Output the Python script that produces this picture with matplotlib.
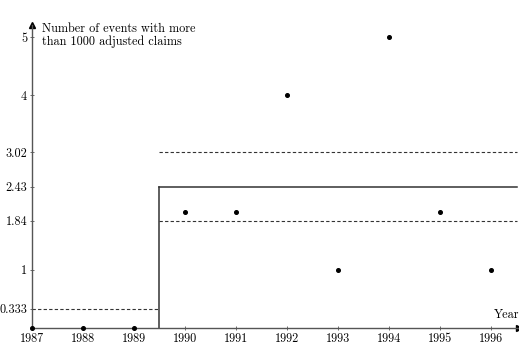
import matplotlib
matplotlib.use("Agg")
import matplotlib.pyplot as plt

years = [1987, 1988, 1989, 1990, 1991, 1992, 1993, 1994, 1995, 1996]
events = [0, 0, 0, 2, 2, 4, 1, 5, 2, 1]
break_year = 1989.5
mean_before = 0.333
mean_after = 2.43
upper_after = 3.02
lower_after = 1.84
yticks = [0.333, 1, 1.84, 2.43, 3.02, 4, 5]
ytick_labels = ["0.333", "1", "1.84", "2.43", "3.02", "4", "5"]

plt.rcParams['font.family'] = ['cmr10', 'DejaVu Serif']
plt.rcParams['axes.formatter.use_mathtext'] = True

fig = plt.figure(figsize=(5.19, 3.51), dpi=100)
ax = fig.add_axes([32/519, 23/351, 487/519, 302.6/351])
xmin, xmax = 1987, 1996.55
ax.set_xlim(xmin, xmax)
ax.set_ylim(0, 5.2)

for s in ['top', 'right']:
    ax.spines[s].set_visible(False)
for s in ['left', 'bottom']:
    ax.spines[s].set_color('#555555')
    ax.spines[s].set_linewidth(1.0)

ax.plot(1, 0, ">", color='black', ms=4, transform=ax.transAxes, clip_on=False)
ax.plot(0, 1, "^", color='black', ms=4, transform=ax.transAxes, clip_on=False)

# before break
ax.plot([xmin, break_year], [mean_before, mean_before], ls=(0, (3, 2)), color='#333333', lw=0.8)
# after break
ax.plot([break_year, break_year], [0, mean_after], color='#333333', lw=1.1, clip_on=False)
ax.plot([break_year, xmax - 0.03], [mean_after, mean_after], color='#333333', lw=1.1)
ax.plot([break_year, xmax - 0.03], [upper_after, upper_after], ls=(0, (3, 2)), color='#333333', lw=0.8)
ax.plot([break_year, xmax - 0.03], [lower_after, lower_after], ls=(0, (3, 2)), color='#333333', lw=0.8)

ax.plot(years, events, 'o', color='black', ms=2.6, clip_on=False, zorder=5)

ax.set_xticks(years)
ax.set_xticklabels([str(y) for y in years])
ax.set_yticks(yticks)
ax.set_yticklabels(ytick_labels)
ax.tick_params(direction='inout', length=3, width=0.6, color='#555555', labelsize=8.8, pad=2)

ax.text(1987.2, 5.24, "Number of events with more\nthan 1000 adjusted claims", fontsize=8.8,
        va='top', ha='left', linespacing=1.05, clip_on=False)
ax.text(xmax, 0.12, "Year", fontsize=8.8, ha='right', va='bottom')

fig.savefig("out.png", dpi=100)
